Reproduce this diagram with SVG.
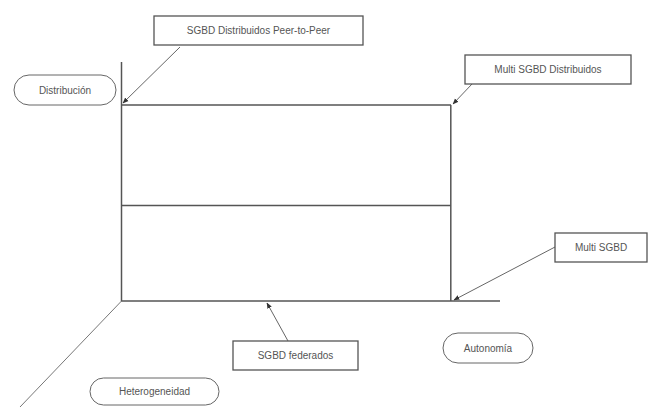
<svg xmlns="http://www.w3.org/2000/svg" width="648" height="407" viewBox="0 0 648 407">
<style>
.box{fill:#fff;stroke:#555;stroke-width:1.3}
.pill{fill:#fff;stroke:#666;stroke-width:1}
.ax{stroke:#555;stroke-width:1.5;fill:none}
.diag{stroke:#777;stroke-width:1;fill:none}
.con{stroke:#666;stroke-width:1;fill:none}
text{font-family:"Liberation Sans",Arial,sans-serif;font-size:10px;fill:#555;text-anchor:middle}
</style>
<defs>
<marker id="ah" viewBox="0 0 10 10" refX="9" refY="5" markerWidth="6" markerHeight="6" orient="auto">
<path d="M0,1 L10,5 L0,9 z" fill="#333"/>
</marker>
</defs>
<g id="axes">
<line class="ax" x1="121.5" y1="62" x2="121.5" y2="301"/>
<line class="ax" x1="121" y1="301" x2="500" y2="301"/>
<line class="diag" x1="121.5" y1="301" x2="20" y2="407"/>
<line class="ax" x1="121" y1="105" x2="451" y2="105"/>
<line class="ax" x1="121" y1="205.5" x2="451" y2="205.5"/>
<line class="ax" x1="450.8" y1="105" x2="450.8" y2="301"/>
</g>
<g id="connectors">
<line class="con" x1="180" y1="47" x2="123" y2="103" marker-end="url(#ah)"/>
<line class="con" x1="472" y1="84" x2="453" y2="104" marker-end="url(#ah)"/>
<line class="con" x1="555" y1="247" x2="454" y2="300" marker-end="url(#ah)"/>
<line class="con" x1="288" y1="341" x2="267" y2="303" marker-end="url(#ah)"/>
</g>
<g id="peer">
<rect class="box" x="154" y="16" width="209" height="29"/>
<text x="258.5" y="34">SGBD Distribuidos Peer-to-Peer</text>
</g>
<g id="multidist">
<rect class="box" x="465" y="55" width="166" height="29"/>
<text x="548" y="73">Multi SGBD Distribuidos</text>
</g>
<g id="multi">
<rect class="box" x="555" y="233" width="92" height="29"/>
<text x="601" y="251">Multi SGBD</text>
</g>
<g id="federados">
<rect class="box" x="233" y="341" width="125" height="29"/>
<text x="295.5" y="359">SGBD federados</text>
</g>
<g id="distribucion">
<rect class="pill" x="14" y="75" width="102" height="30" rx="15"/>
<text x="65" y="94">Distribución</text>
</g>
<g id="autonomia">
<rect class="pill" x="443" y="333" width="90" height="30" rx="15"/>
<text x="488" y="352">Autonomía</text>
</g>
<g id="heterogeneidad">
<rect class="pill" x="90" y="378" width="129" height="27" rx="13.5"/>
<text x="154.5" y="395">Heterogeneidad</text>
</g>
</svg>
